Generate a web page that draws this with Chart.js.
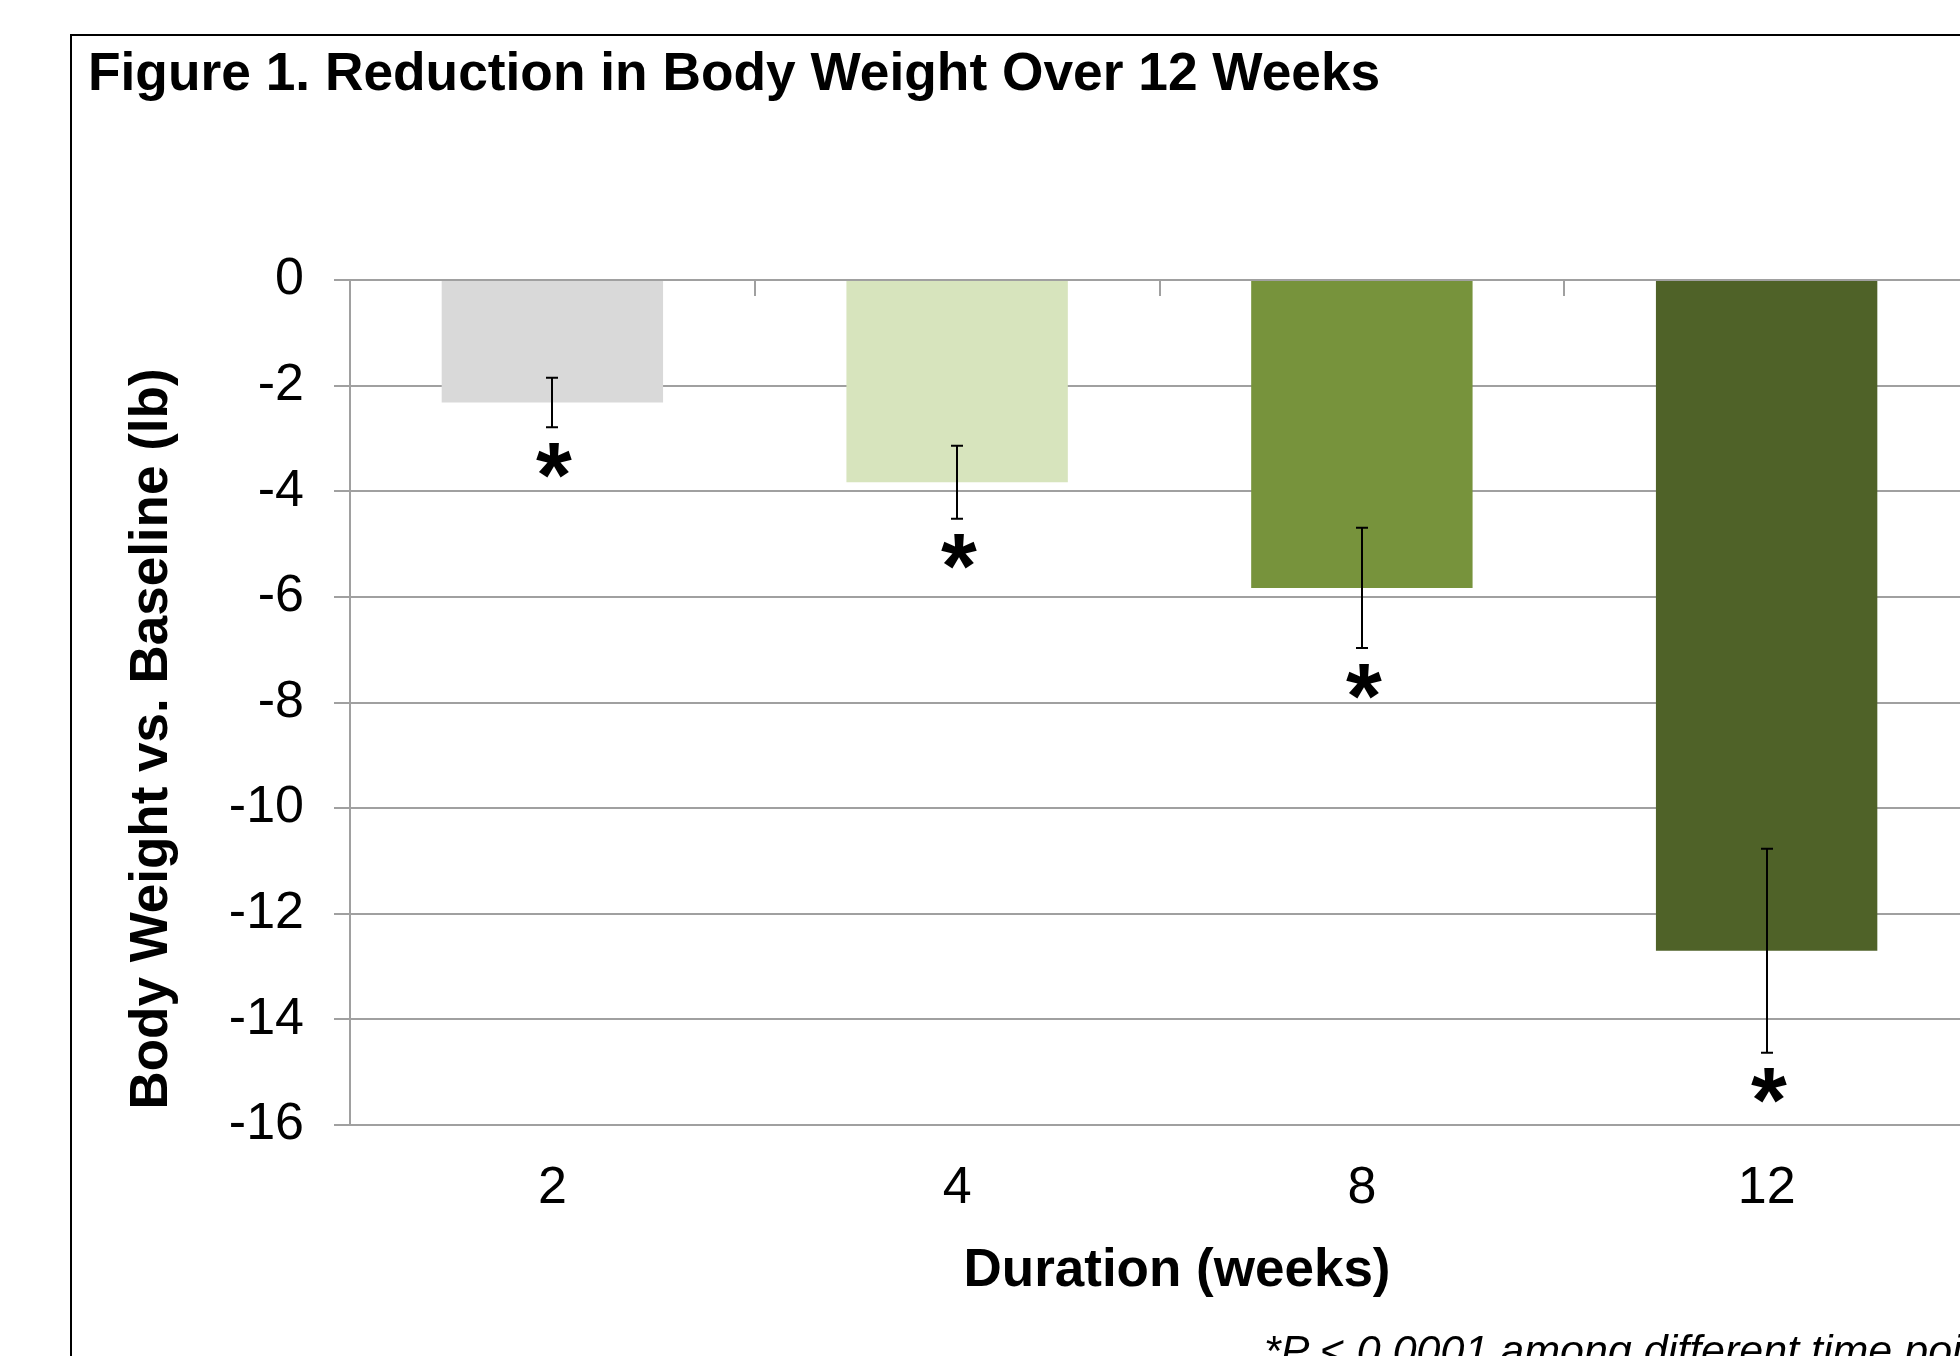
<!DOCTYPE html>
<html>
<head>
<meta charset="utf-8">
<script src="https://cdn.jsdelivr.net/npm/chart.js@4.4.1/dist/chart.umd.min.js"></script>
<style>
  html, body { margin: 0; padding: 0; background: #fff; overflow: hidden; width: 1960px; height: 1356px; }
  #frame { position: absolute; left: 70px; top: 34px; width: 3000px; height: 3000px; border: 2px solid #000; box-sizing: border-box; }
  #title { position: absolute; left: 88px; top: 45px; font: bold 53.3px/1 'Liberation Sans', Arial, sans-serif; white-space: nowrap; color: #000; }
  #note { position: absolute; left: 1264px; top: 1329px; font: italic 43px/1 'Liberation Sans', Arial, sans-serif; white-space: nowrap; color: #000; }
  #c { position: absolute; left: 0; top: 0; }
</style>
</head>
<body>
<div id="frame"></div>
<div id="title">Figure 1. Reduction in Body Weight Over 12 Weeks</div>
<canvas id="c" width="2000" height="1356"></canvas>
<div id="note">*P &lt; 0.0001 among different time points</div>
<script>
// ---- data ----
const categories = ['2', '4', '8', '12'];
const weightChange = [-2.32, -3.83, -5.83, -12.70];
const errorSE = [0.47, 0.69, 1.14, 1.93];
const significance = ['*', '*', '*', '*'];
const barColors = ['#d9d9d9', '#d7e4bd', '#77933c', '#4f6228'];
const xAxisTitle = 'Duration (weeks)';
const yAxisTitle = 'Body Weight vs. Baseline (lb)';
const yMin = -16;
const yMax = 0;
const yStep = 2;

const FONT = "'Liberation Sans', Arial, sans-serif";
const GRID = '#a0a0a0';

const annotate = {
  id: 'annotate',
  afterDatasetsDraw(chart) {
    const ctx = chart.ctx;
    const xs = chart.scales.x, ys = chart.scales.y;
    const meta = chart.getDatasetMeta(0);
    ctx.save();
    // category tick marks hanging from the zero line
    const y0 = ys.getPixelForValue(0);
    ctx.strokeStyle = GRID;
    ctx.lineWidth = 2;
    for (let i = 0; i <= categories.length; i++) {
      const px = Math.round(xs.getPixelForValue(i - 0.5));
      ctx.beginPath();
      ctx.moveTo(px, y0);
      ctx.lineTo(px, y0 + 16);
      ctx.stroke();
    }
    // error bars + significance markers
    meta.data.forEach((bar, i) => {
      const v = weightChange[i], e = errorSE[i];
      const yt = ys.getPixelForValue(v + e);
      const yb = ys.getPixelForValue(v - e);
      const cx = Math.round(bar.x);
      ctx.strokeStyle = '#000';
      ctx.lineWidth = 2;
      ctx.beginPath();
      ctx.moveTo(cx, yt); ctx.lineTo(cx, yb);
      ctx.moveTo(cx - 6, yt); ctx.lineTo(cx + 6, yt);
      ctx.moveTo(cx - 6, yb); ctx.lineTo(cx + 6, yb);
      ctx.stroke();

      ctx.fillStyle = '#000';
      ctx.font = 'bold 92px ' + FONT;
      ctx.textAlign = 'left';
      ctx.textBaseline = 'alphabetic';
      const m = ctx.measureText(significance[i]);
      const gx = cx + 2 - (m.actualBoundingBoxRight - m.actualBoundingBoxLeft) / 2;
      const gy = yb + 33 - (m.actualBoundingBoxDescent - m.actualBoundingBoxAscent) / 2;
      ctx.fillText(significance[i], gx, gy);
    });
    ctx.restore();
  },
  afterDraw(chart) {
    // axis titles (placed as in the original figure)
    const ctx = chart.ctx;
    ctx.save();
    ctx.fillStyle = '#000';
    ctx.font = 'bold 53px ' + FONT;
    ctx.textAlign = 'center';
    ctx.textBaseline = 'middle';
    ctx.fillText(xAxisTitle, 1177, 1271);
    ctx.translate(152, 739);
    ctx.rotate(-Math.PI / 2);
    ctx.fillText(yAxisTitle, 0, 0);
    ctx.restore();
  }
};

new Chart(document.getElementById('c'), {
  type: 'bar',
  data: {
    labels: categories,
    datasets: [{
      data: weightChange,
      backgroundColor: barColors,
      borderWidth: 0,
      categoryPercentage: 1.0,
      barPercentage: 0.547
    }]
  },
  options: {
    responsive: false,
    animation: false,
    events: [],
    layout: { padding: { left: 0, top: 280, right: 31, bottom: 0 } },
    plugins: { legend: { display: false }, tooltip: { enabled: false }, title: { display: false } },
    scales: {
      x: {
        position: 'bottom',
        grid: { display: false, drawTicks: false, tickLength: 0 },
        border: { display: false },
        ticks: { color: '#000', font: { family: FONT, size: 52 }, padding: 32, maxRotation: 0, autoSkip: false },
        title: { display: false, text: xAxisTitle },
        afterFit(s) { s.height = 231; }
      },
      y: {
        min: yMin,
        max: yMax,
        ticks: { stepSize: yStep, color: '#000', font: { family: FONT, size: 52 }, padding: 30 },
        grid: { color: GRID, lineWidth: 2, tickLength: 16, drawTicks: true },
        border: { display: true, color: GRID, width: 2 },
        title: { display: false, text: yAxisTitle },
        afterFit(s) { s.width = 350; }
      }
    }
  },
  plugins: [annotate]
});
</script>
</body>
</html>
